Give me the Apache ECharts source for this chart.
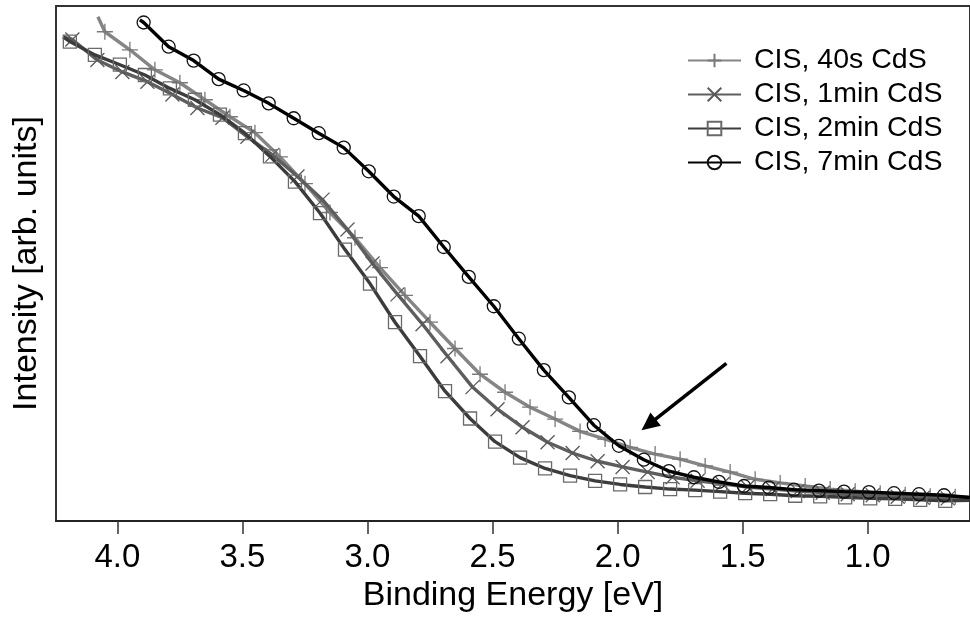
<!DOCTYPE html>
<html>
<head>
<meta charset="utf-8">
<script src="https://cdn.jsdelivr.net/npm/echarts@6/dist/echarts.min.js"></script>
<style>
html,body{margin:0;padding:0;background:#fff;}
#chart{width:970px;height:618px;}
</style>
</head>
<body>
<div id="chart"></div>
<script>
// ---- data (Binding energy in eV, intensity in arbitrary units) ----
const xTicks = [1.0, 1.5, 2.0, 2.5, 3.0, 3.5, 4.0];
const seriesNames = ['CIS, 40s CdS', 'CIS, 1min CdS', 'CIS, 2min CdS', 'CIS, 7min CdS'];

const x40s = [4.05,3.95,3.85,3.75,3.65,3.55,3.45,3.35,3.25,3.15,3.05,2.95,2.85,2.75,2.65,2.55,2.45,2.35,2.25,2.15,2.05,1.95,1.85,1.75,1.65,1.55,1.45,1.35,1.25,1.15,1.05,0.95,0.85,0.75,0.65];
const y40s = [95.0,91.5,87.6,85.1,81.8,78.5,75.4,70.7,65.5,59.9,55.0,49.2,43.8,38.6,33.5,28.5,25.0,22.1,19.8,17.4,15.9,14.3,13.0,12.0,10.7,9.5,8.1,7.4,6.8,6.2,5.8,5.4,5.1,4.8,4.7];
const ends40s = [[4.078, 97.9], [0.591, 4.55]];

const x1min = [4.18,4.08,3.98,3.88,3.78,3.68,3.58,3.48,3.38,3.28,3.18,3.08,2.98,2.88,2.78,2.68,2.58,2.48,2.38,2.28,2.18,2.08,1.98,1.88,1.78,1.68,1.58,1.48,1.38,1.28,1.18,1.08,0.98,0.88,0.78,0.68];
const y1min = [93.5,89.5,87.2,85.3,82.8,80.2,78.3,74.6,71.1,66.9,62.4,56.6,50.0,44.0,38.2,32.0,26.0,21.7,18.2,15.3,13.2,11.6,10.5,9.5,8.5,7.8,7.2,6.6,6.2,5.8,5.5,5.2,5.0,4.7,4.5,4.4];
const ends1min = [[4.217, 94.0], [0.591, 4.3]];

const x2min = [4.19,4.09,3.99,3.89,3.79,3.69,3.59,3.49,3.39,3.29,3.19,3.09,2.99,2.89,2.79,2.69,2.59,2.49,2.39,2.29,2.19,2.09,1.99,1.89,1.79,1.69,1.59,1.49,1.39,1.29,1.19,1.09,0.99,0.89,0.79,0.69];
const y2min = [93.1,90.5,88.6,86.6,84.0,81.8,78.9,75.3,70.8,65.9,59.8,52.7,46.1,38.6,32.0,25.2,19.9,15.4,12.3,10.2,8.8,7.8,7.1,6.6,6.2,6.0,5.7,5.4,5.2,4.9,4.8,4.6,4.4,4.3,4.1,3.9];
const ends2min = [[4.217, 94.0], [0.591, 4.0]];

const x7min = [3.895,3.795,3.695,3.595,3.495,3.395,3.295,3.195,3.095,2.995,2.895,2.795,2.695,2.595,2.495,2.395,2.295,2.195,2.095,1.995,1.895,1.795,1.695,1.595,1.495,1.395,1.295,1.195,1.095,0.995,0.895,0.795,0.695];
const y7min = [96.8,92.1,89.4,85.8,83.6,81.1,78.2,75.3,72.5,67.9,63.0,59.2,53.2,47.4,41.7,35.4,29.3,24.0,18.6,14.6,11.9,9.7,8.5,7.6,6.8,6.5,6.1,5.9,5.7,5.6,5.4,5.2,5.0];
const ends7min = [[3.91, 97.3], [0.591, 4.55]];

// annotation arrow (from, to) in data coordinates
const arrowFrom = [1.565, 30.6];
const arrowTo = [1.876, 18.7];

// ---- build ----
function build(xs, ys, ends) {
  const d = [{ value: ends[0], symbol: 'none' }];
  for (let i = 0; i < xs.length; i++) d.push([xs[i], ys[i]]);
  d.push({ value: ends[1], symbol: 'none' });
  return d;
}
const plusPath = 'path://M0,5L10,5M5,0L5,10';
const crossPath = 'path://M0,0L10,10M10,0L0,10';
const FONT = '"Liberation Sans", Arial, sans-serif';

const styles = [
  { line: '#858585', mark: '#7a7a7a', symbol: plusPath, size: 16 },
  { line: '#5e5e5e', mark: '#5a5a5a', symbol: crossPath, size: 14 },
  { line: '#3c3c3c', mark: '#6a6a6a', symbol: 'rect', size: 13 },
  { line: '#000000', mark: '#111111', symbol: 'circle', size: 13 }
];
const dataSets = [build(x40s, y40s, ends40s), build(x1min, y1min, ends1min), build(x2min, y2min, ends2min), build(x7min, y7min, ends7min)];

const series = dataSets.map((d, i) => ({
  type: 'line',
  name: seriesNames[i],
  data: d,
  symbol: styles[i].symbol,
  symbolSize: styles[i].size,
  showSymbol: true,
  showAllSymbol: true,
  lineStyle: { color: styles[i].line, width: 3.4 },
  itemStyle: { color: 'rgba(255,255,255,0)', borderColor: styles[i].mark, borderWidth: 1.3 },
  emphasis: { disabled: true },
  z: 2 + i
}));
series.push({
  type: 'line',
  data: [],
  silent: true,
  markLine: {
    silent: true,
    animation: false,
    symbol: ['none', 'triangle'],
    symbolSize: [17, 18],
    label: { show: false },
    lineStyle: { color: '#000', width: 3.5, type: 'solid' },
    emphasis: { disabled: true },
    data: [[{ coord: arrowFrom }, { coord: arrowTo }]]
  }
});

const chart = echarts.init(document.getElementById('chart'), null, { renderer: 'canvas' });
chart.setOption({
  animation: false,
  backgroundColor: '#fff',
  grid: { left: 56, top: 6, width: 916, height: 516, show: true, borderColor: '#333', borderWidth: 2, containLabel: false },
  legend: {
    orient: 'vertical',
    left: 687, top: 46,
    padding: 0,
    itemWidth: 53, itemHeight: 17, itemGap: 5,
    data: seriesNames,
    textStyle: { fontFamily: FONT, fontSize: 28.5, color: '#000', padding: [0, 0, 0, 8], lineHeight: 27 }
  },
  xAxis: {
    type: 'value', inverse: true, min: 0.591, max: 4.2454,
    splitLine: { show: false },
    axisLine: { show: true, lineStyle: { color: '#222', width: 2 } },
    axisTick: { show: true, customValues: xTicks, length: 13, lineStyle: { color: '#333', width: 1.5 } },
    axisLabel: { customValues: xTicks, formatter: v => v.toFixed(1), fontFamily: FONT, fontSize: 33, color: '#000', margin: 20 },
    name: 'Binding Energy [eV]', nameLocation: 'middle', nameGap: 58,
    nameTextStyle: { fontFamily: FONT, fontSize: 34, color: '#000' }
  },
  yAxis: {
    type: 'value', min: 0, max: 100,
    splitLine: { show: false },
    axisLine: { show: false }, axisTick: { show: false }, axisLabel: { show: false },
    name: 'Intensity [arb. units]', nameLocation: 'middle', nameGap: 12,
    nameTextStyle: { fontFamily: FONT, fontSize: 34, color: '#000' }
  },
  series: series
});
</script>
</body>
</html>
